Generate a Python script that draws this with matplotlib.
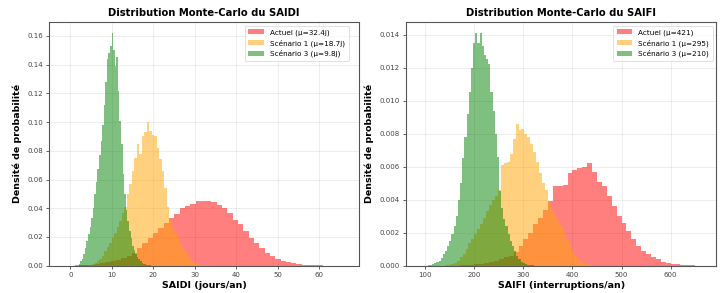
import numpy as np
import matplotlib
matplotlib.use("Agg")
import matplotlib.pyplot as plt

# --- SAIDI (jours/an) : bin ranges + densities
saidi_actuel_range = (2.0, 66.0)
saidi_actuel = [0.0002, 0.0004, 0.0008, 0.0012, 0.0018, 0.0025, 0.0032, 0.0042, 0.0052, 0.0065,
                0.0085, 0.0120, 0.0156, 0.0195, 0.0230, 0.0265, 0.0300, 0.0330, 0.0360, 0.0400,
                0.0418, 0.0430, 0.0450, 0.0453, 0.0450, 0.0445, 0.0425, 0.0400, 0.0365, 0.0320,
                0.0290, 0.0240, 0.0195, 0.0158, 0.0125, 0.0090, 0.0070, 0.0045, 0.0035, 0.0024,
                0.0016, 0.0011, 0.0008, 0.0005, 0.0003, 0.0002, 0.0001, 0.0001, 0.00005, 0.00003]
saidi_sc1_range = (4.0, 34.0)
saidi_sc1 = [0.0003, 0.0006, 0.0010, 0.0020, 0.0030, 0.0050, 0.0070, 0.0100, 0.0130, 0.0160,
             0.0190, 0.0230, 0.0270, 0.0310, 0.0370, 0.0410, 0.0500, 0.0570, 0.0660, 0.0750,
             0.0850, 0.0780, 0.0900, 0.0930, 0.1000, 0.0940, 0.0910, 0.0900, 0.0820, 0.0740,
             0.0660, 0.0540, 0.0410, 0.0320, 0.0280, 0.0240, 0.0200, 0.0160, 0.0130, 0.0100,
             0.0070, 0.0040, 0.0030, 0.0020, 0.0012, 0.0008, 0.0005, 0.0003, 0.0002, 0.0001]
saidi_sc3_range = (0.8, 19.8)
saidi_sc3 = [0.0, 0.0003, 0.0008, 0.0015, 0.0030, 0.0050, 0.0080, 0.0120, 0.0170, 0.0220,
             0.0270, 0.0330, 0.0400, 0.0500, 0.0580, 0.0670, 0.0770, 0.0870, 0.0980, 0.1120,
             0.1280, 0.1440, 0.1480, 0.1530, 0.1620, 0.1500, 0.1390, 0.1450, 0.1220, 0.1010,
             0.0850, 0.0640, 0.0500, 0.0390, 0.0310, 0.0240, 0.0190, 0.0140, 0.0110, 0.0080,
             0.0060, 0.0045, 0.0030, 0.0020, 0.0015, 0.0010, 0.0006, 0.0004, 0.0002, 0.0001]

# --- SAIFI (interruptions/an)
saifi_actuel_range = (170.0, 670.0)
saifi_actuel = [0.00002, 0.00004, 0.00006, 0.0001, 0.00013, 0.00017, 0.00022, 0.0003, 0.0004, 0.0005,
                0.0006, 0.0008, 0.0012, 0.0016, 0.0020, 0.0025, 0.0029, 0.0034, 0.0039, 0.0048,
                0.0048, 0.0049, 0.0056, 0.0058, 0.0059, 0.0060, 0.0062, 0.0057, 0.0051, 0.0048,
                0.0042, 0.0036, 0.0030, 0.0026, 0.0021, 0.0016, 0.0012, 0.0009, 0.0007, 0.0005,
                0.0004, 0.0002, 0.00015, 0.0001, 0.00008, 0.00005, 0.00003, 0.00002, 0.00001, 0.00001]
saifi_sc1_range = (140.0, 440.0)
saifi_sc1 = [0.00003, 0.00006, 0.0001, 0.00018, 0.0003, 0.0005, 0.0007, 0.0010, 0.00135, 0.0016,
             0.0019, 0.0022, 0.0025, 0.0029, 0.0033, 0.0037, 0.0040, 0.0042, 0.0046, 0.0061,
             0.0062, 0.0063, 0.0068, 0.0077, 0.0086, 0.0082, 0.0083, 0.0080, 0.0078, 0.0074,
             0.0069, 0.0063, 0.0056, 0.0050, 0.0046, 0.0039, 0.0034, 0.0030, 0.0027, 0.0024,
             0.0020, 0.0016, 0.0012, 0.0009, 0.0006, 0.0004, 0.00025, 0.00015, 0.0001, 0.00005]
saifi_sc3_range = (105.0, 325.0)
saifi_sc3 = [0.00002, 0.00004, 0.0001, 0.00015, 0.00022, 0.0003, 0.00045, 0.0007, 0.0009, 0.0012,
             0.0015, 0.0019, 0.0024, 0.0030, 0.0040, 0.0050, 0.0065, 0.0078, 0.0092, 0.0105,
             0.0120, 0.0135, 0.0141, 0.0135, 0.0141, 0.0133, 0.0128, 0.0125, 0.0122, 0.0105,
             0.0094, 0.0080, 0.0066, 0.0045, 0.0035, 0.0028, 0.0024, 0.0019, 0.0015, 0.0012,
             0.0009, 0.0006, 0.0004, 0.00025, 0.00015, 0.0001, 0.00006, 0.00004, 0.00002, 0.00001]

saidi_labels = ['Actuel (μ=32.4j)', 'Scénario 1 (μ=18.7j)', 'Scénario 3 (μ=9.8j)']
saifi_labels = ['Actuel (μ=421)', 'Scénario 1 (μ=295)', 'Scénario 3 (μ=210)']
colors = ['red', 'orange', 'green']

fig = plt.figure(figsize=(7.24, 2.93), dpi=100)
ax1 = fig.add_axes([0.0681, 0.0932, 0.428, 0.8317])
ax2 = fig.add_axes([0.5612, 0.0932, 0.428, 0.8317])


def draw_panel(ax, series, labels, title, xlabel, xlim, ylim, leg_anchor):
    for (rng, dens), lab, col in zip(series, labels, colors):
        edges = np.linspace(rng[0], rng[1], len(dens) + 1)
        ax.stairs(dens, edges, fill=True, color=col, alpha=0.5, label=lab, linewidth=0)
    ax.set_xlim(*xlim)
    ax.set_ylim(*ylim)
    ax.set_title(title, fontsize=7.2, fontweight='bold', pad=4)
    ax.set_xlabel(xlabel, fontsize=6.8, fontweight='bold', labelpad=2)
    ax.set_ylabel('Densité de probabilité', fontsize=6.8, fontweight='bold', labelpad=4)
    ax.grid(True, alpha=0.3, linewidth=0.5)
    ax.set_axisbelow(True)
    ax.tick_params(labelsize=5, length=2.5, width=0.6, pad=2, colors='#444444')
    for s in ax.spines.values():
        s.set_color('#555555')
        s.set_linewidth(0.8)
    leg = ax.legend(loc='upper right', bbox_to_anchor=leg_anchor, fontsize=5.2, frameon=True,
                    fancybox=True, handlelength=2.2, borderpad=0.5, labelspacing=0.45)
    leg.get_frame().set_linewidth(0.5)


draw_panel(ax1, [(saidi_actuel_range, saidi_actuel), (saidi_sc1_range, saidi_sc1),
                 (saidi_sc3_range, saidi_sc3)],
           saidi_labels, 'Distribution Monte-Carlo du SAIDI', 'SAIDI (jours/an)',
           (-5.1, 69.6), (0, 0.1697), (0.978, 1.0))
draw_panel(ax2, [(saifi_actuel_range, saifi_actuel), (saifi_sc1_range, saifi_sc1),
                 (saifi_sc3_range, saifi_sc3)],
           saifi_labels, 'Distribution Monte-Carlo du SAIFI', 'SAIFI (interruptions/an)',
           (61.3, 692.9), (0, 0.01477), (1.0, 1.0))
ax1.set_yticks(np.arange(0, 0.161, 0.02))
ax2.set_yticks(np.arange(0, 0.0141, 0.002))

fig.savefig('out.png', dpi=100)
